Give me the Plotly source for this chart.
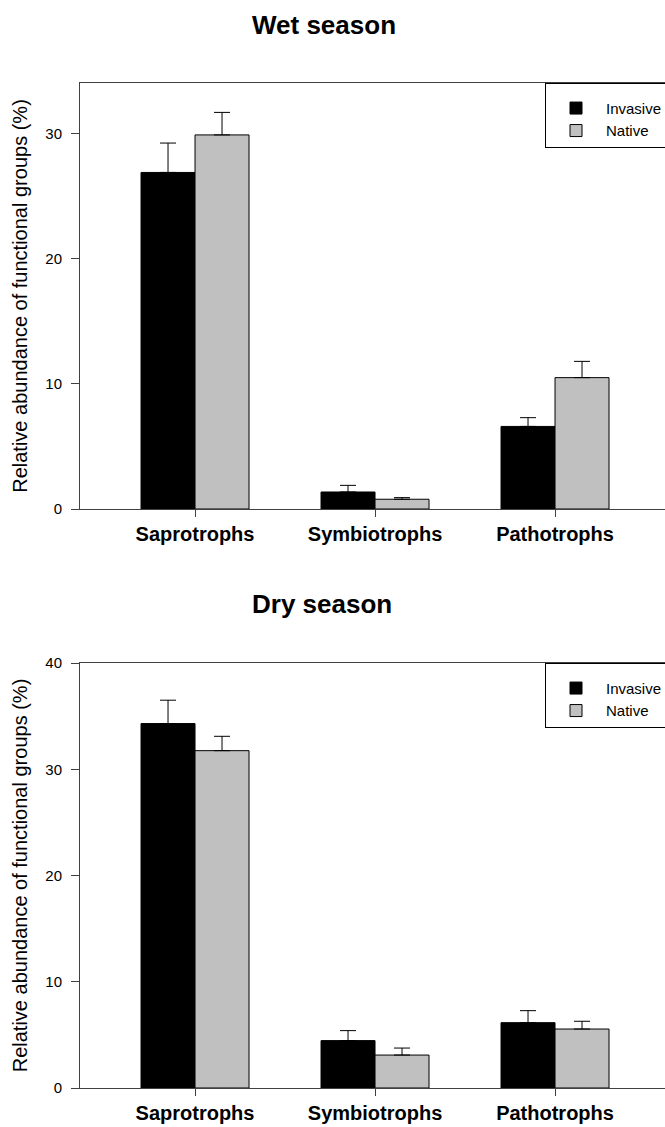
import plotly.graph_objects as go

categories = ["Saprotrophs", "Symbiotrophs", "Pathotrophs"]
series_names = ["Invasive", "Native"]

wet_invasive = [26.9, 1.36, 6.6]
wet_invasive_err = [2.35, 0.53, 0.7]
wet_native = [29.9, 0.78, 10.5]
wet_native_err = [1.8, 0.13, 1.3]

dry_invasive = [34.3, 4.46, 6.15]
dry_invasive_err = [2.2, 0.94, 1.13]
dry_native = [31.75, 3.1, 5.55]
dry_native_err = [1.35, 0.66, 0.73]

panel_titles = ["Wet season", "Dry season"]
y_title = "Relative abundance of functional groups (%)"
wet_ticks = [0, 10, 20, 30]
dry_ticks = [0, 10, 20, 30, 40]

W, H = 665, 1127
FONT = "Arial, Liberation Sans, sans-serif"
colors = ["#000000", "#c0c0c0"]
axis_col = "#404040"

def py(px):
    return 1 - px / H

fig = go.Figure()

panels = [
    (wet_invasive, wet_invasive_err, wet_native, wet_native_err, "x", "y", "legend"),
    (dry_invasive, dry_invasive_err, dry_native, dry_native_err, "x2", "y2", "legend2"),
]
for inv, inv_e, nat, nat_e, xa, ya, lg in panels:
    for name, vals, errs, col in [
        (series_names[0], inv, inv_e, colors[0]),
        (series_names[1], nat, nat_e, colors[1]),
    ]:
        fig.add_trace(go.Bar(
            x=categories, y=vals, name=name, xaxis=xa, yaxis=ya, legend=lg,
            marker=dict(color=col, line=dict(color="black", width=1)),
            error_y=dict(type="data", symmetric=False, array=errs,
                         arrayminus=[0] * len(errs), color="black",
                         thickness=1, width=8),
        ))

xrange = [-0.639, 2.611]
common_x = dict(range=xrange, showline=True, linecolor=axis_col, linewidth=1,
                mirror=True, ticks="outside", ticklen=7, tickcolor=axis_col,
                tickfont=dict(family=FONT, size=20, color="black"),
                showgrid=False, zeroline=False, fixedrange=True)
common_y = dict(showline=True, linecolor=axis_col, linewidth=1, ticks="outside",
                ticklen=8, tickcolor=axis_col, ticklabelstandoff=6,
                tickfont=dict(family=FONT, size=15, color="black"),
                showgrid=False, zeroline=False,
                title=dict(text=y_title, font=dict(family=FONT, size=20, color="black"),
                           standoff=12))

legend_common = dict(x=545 / W, xanchor="left", yanchor="top",
                     bordercolor="black", borderwidth=1, bgcolor="white",
                     font=dict(family=FONT, size=15, color="black"), itemwidth=50,
                     tracegroupgap=0,
                     title=dict(text=" ", font=dict(family=FONT, size=6)))

dom_x = [80 / W, 1.0]
fig.update_layout(
    width=W, height=H,
    margin=dict(l=0, r=0, t=0, b=0, autoexpand=False),
    paper_bgcolor="white", plot_bgcolor="white",
    barmode="group", bargap=0.4, bargroupgap=0,
    showlegend=True,
    xaxis=dict(domain=dom_x, anchor="y", tickprefix="<b>", ticksuffix="</b>", **common_x),
    yaxis=dict(domain=[py(509), py(83)], anchor="x", range=[0, 34.05],
               tickvals=wet_ticks, **common_y),
    xaxis2=dict(domain=dom_x, anchor="y2", tickprefix="<b>", ticksuffix="</b>", **common_x),
    yaxis2=dict(domain=[py(1088), py(663)], anchor="x2", range=[0, 40],
                tickvals=dry_ticks, **common_y),
    legend=dict(y=py(83), **legend_common),
    legend2=dict(y=py(663), **legend_common),
    annotations=[
        dict(text="<b>%s</b>" % panel_titles[0], x=324 / W, y=py(25), xref="paper",
             yref="paper", showarrow=False, xanchor="center", yanchor="middle",
             font=dict(family=FONT, size=26, color="black")),
        dict(text="<b>%s</b>" % panel_titles[1], x=322 / W, y=py(604), xref="paper",
             yref="paper", showarrow=False, xanchor="center", yanchor="middle",
             font=dict(family=FONT, size=26, color="black")),
    ],
)

fig.write_html("out.html")
